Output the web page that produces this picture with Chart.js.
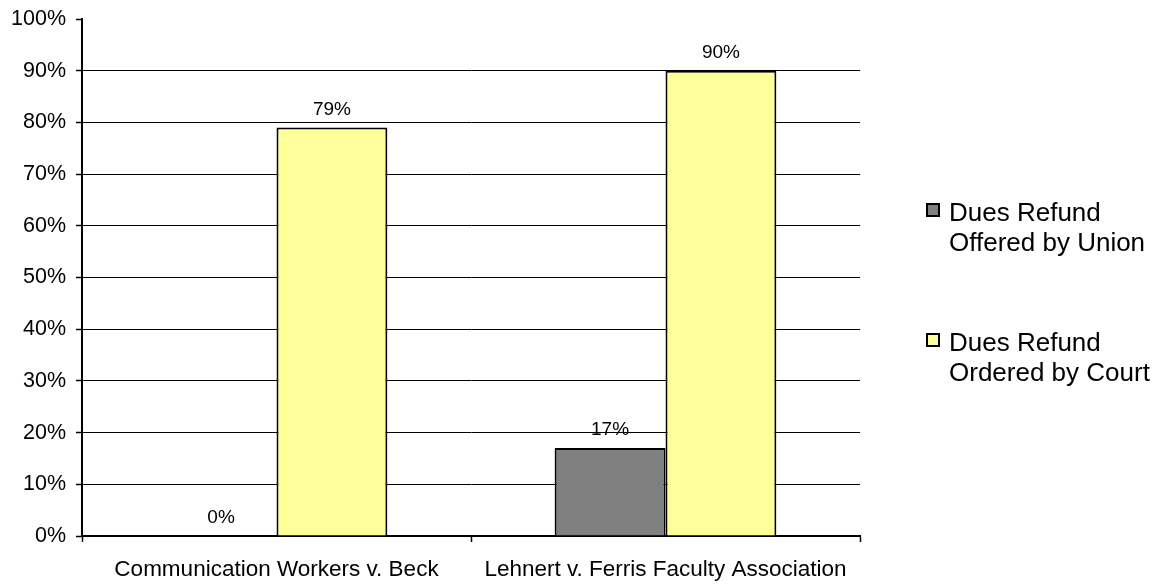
<!DOCTYPE html>
<html>
<head>
<meta charset="utf-8">
<script src="https://cdn.jsdelivr.net/npm/chart.js@4.4.0/dist/chart.umd.min.js"></script>
<style>
  html, body { margin: 0; padding: 0; background: #fff; }
  #wrap { width: 1158px; height: 584px; }
</style>
</head>
<body>
<div id="wrap"><canvas id="chart"></canvas></div>
<script>
// values
var cases = ['Communication Workers v. Beck', 'Lehnert v. Ferris Faculty Association'];
var offeredByUnion = [0, 17];
var orderedByCourt = [79, 90];
var offeredLabel = ['Dues Refund', 'Offered by Union'];
var orderedLabel = ['Dues Refund', 'Ordered by Court'];

var FONT = '"Liberation Sans", Arial, sans-serif';

// draws "79%" etc above each bar
var valueLabels = {
  id: 'valueLabels',
  afterDatasetsDraw: function(chart) {
    var ctx = chart.ctx;
    ctx.save();
    ctx.font = '19px ' + FONT;
    ctx.fillStyle = '#000';
    ctx.textAlign = 'center';
    ctx.textBaseline = 'alphabetic';
    chart.data.datasets.forEach(function(ds, i) {
      chart.getDatasetMeta(i).data.forEach(function(bar, j) {
        ctx.fillText(ds.data[j] + '%', bar.x, bar.y - 13);
      });
    });
    ctx.restore();
  }
};

// legend on the right, two lines per item
var sideLegend = {
  id: 'sideLegend',
  afterDraw: function(chart) {
    var ctx = chart.ctx;
    var x = chart.chartArea.right + 67;
    var top = 204;
    ctx.save();
    ctx.font = '26px ' + FONT;
    ctx.textBaseline = 'middle';
    chart.data.datasets.forEach(function(ds, i) {
      var y = top + i * 130;
      ctx.fillStyle = ds.backgroundColor;
      ctx.fillRect(x, y, 12, 12);
      ctx.lineWidth = 2;
      ctx.strokeStyle = '#000';
      ctx.strokeRect(x, y, 12, 12);
      ctx.fillStyle = '#000';
      ds.label.forEach(function(line, k) {
        ctx.fillText(line, x + 22, y + 10 + k * 30);
      });
    });
    ctx.restore();
  }
};

var ctx = document.getElementById('chart').getContext('2d');
var chart = new Chart(ctx, {
  type: 'bar',
  data: {
    labels: cases,
    datasets: [{
      label: offeredLabel,
      data: offeredByUnion,
      backgroundColor: '#808080',
      borderColor: '#000',
      borderWidth: 2
    }, {
      label: orderedLabel,
      data: orderedByCourt,
      backgroundColor: '#FFFF99',
      borderColor: '#000',
      borderWidth: 2
    }]
  },
  options: {
    responsive: true,
    maintainAspectRatio: false,
    animation: false,
    layout: {
      padding: { top: 19, right: 298, bottom: 0, left: 0 }
    },
    datasets: {
      bar: { barPercentage: 1, categoryPercentage: 0.57 }
    },
    plugins: {
      legend: { display: false },
      tooltip: { enabled: false }
    },
    scales: {
      x: {
        afterFit: function(scale) {
          scale.height = 48;
          scale.paddingLeft = 0;
          scale.paddingRight = 0;
        },
        grid: {
          offset: true,
          drawOnChartArea: false,
          tickLength: 6,
          tickColor: '#000',
          tickWidth: 1.5
        },
        border: { color: '#000', width: 2 },
        ticks: {
          color: '#000',
          padding: 14,
          font: { family: FONT, size: 22.5 }
        }
      },
      y: {
        min: 0,
        max: 100,
        afterFit: function(scale) {
          scale.width = 82;
          scale.paddingTop = 0;
          scale.paddingBottom = 0;
        },
        grid: {
          color: function(c) { return c.tick && c.tick.value === 100 ? 'rgba(0,0,0,0)' : '#000'; },
          lineWidth: 1,
          tickLength: 6,
          tickColor: '#000',
          tickWidth: 1.5
        },
        border: { color: '#000', width: 2 },
        ticks: {
          stepSize: 10,
          color: '#000',
          padding: 10,
          font: { family: FONT, size: 21.5 },
          callback: function(v) { return v + '%'; }
        }
      }
    }
  },
  plugins: [valueLabels, sideLegend]
});
</script>
</body>
</html>
